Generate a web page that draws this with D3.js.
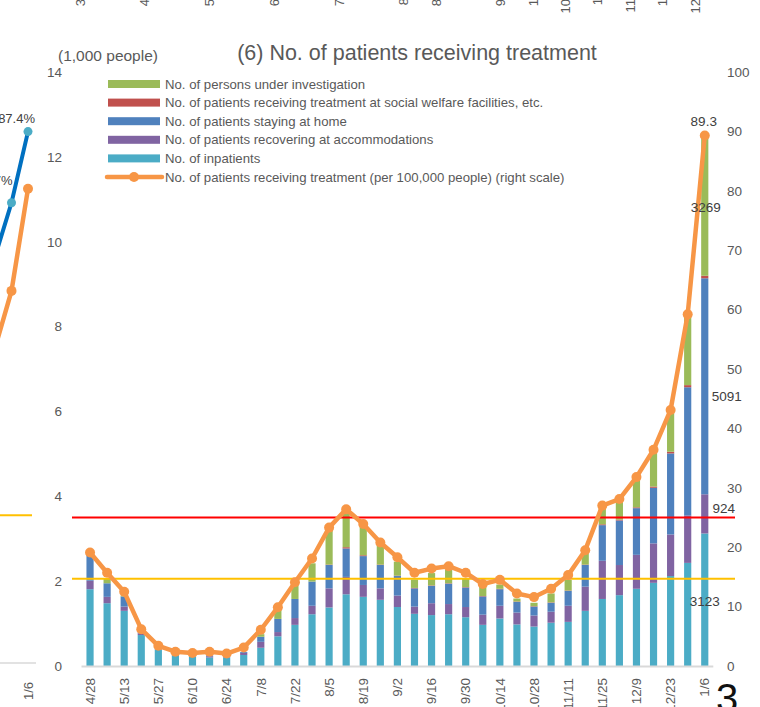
<!DOCTYPE html>
<html>
<head>
<meta charset="utf-8">
<script src="https://cdn.jsdelivr.net/npm/d3@7"></script>
<style>
  body { margin: 0; background: #fff; }
  svg { display: block; font-family: "Liberation Sans", Arial, sans-serif; }
</style>
</head>
<body>
<div id="chart"></div>
<script>
// weekly dates (only every other one is labelled)
const weeks = ["4/28","5/6","5/13","5/20","5/27","6/3","6/10","6/17","6/24","7/1","7/8","7/15","7/22","7/29",
  "8/5","8/12","8/19","8/26","9/2","9/9","9/16","9/23","9/30","10/7","10/14","10/21","10/28","11/4",
  "11/11","11/18","11/25","12/2","12/9","12/16","12/23","12/30","1/6"];

// thousands of people
const inpatients = [1.81,1.48,1.30,0.73,0.39,0.26,0.22,0.20,0.20,0.26,0.43,0.70,0.97,1.22,1.38,1.69,1.63,1.56,1.39,1.23,
  1.20,1.22,1.15,0.97,1.12,0.98,0.93,1.02,1.04,1.30,1.58,1.67,1.82,1.96,2.12,2.43,3.123];
const accommodations = [0.20,0.15,0.10,0.04,0.01,0.01,0.01,0.03,0.02,0.05,0.14,0.10,0.16,0.20,0.45,0.41,0.28,0.27,0.27,0.17,
  0.28,0.24,0.24,0.24,0.30,0.28,0.26,0.26,0.38,0.57,0.90,0.71,0.80,0.93,0.98,1.12,0.924];
const atHome = [0.61,0.32,0.24,0.02,0.01,0.00,0.00,0.02,0.01,0.02,0.12,0.31,0.45,0.57,0.55,0.67,0.68,0.55,0.46,0.43,
  0.41,0.48,0.46,0.43,0.39,0.25,0.21,0.21,0.35,0.51,0.84,1.05,1.10,1.31,1.91,3.02,5.091];
const welfare = [0,0,0,0,0,0,0,0,0,0,0,0,0,0,0.01,0.03,0.02,0.01,0.01,0.01,
  0.01,0.01,0.01,0.01,0.01,0.01,0.01,0.01,0.01,0.01,0.02,0.02,0.02,0.03,0.04,0.05,0.06];
const investigation = [0.02,0.10,0.02,0.00,0.00,0.00,0.00,0.00,0.00,0.00,0.06,0.22,0.34,0.43,0.86,0.80,0.68,0.46,0.33,0.20,
  0.29,0.32,0.20,0.23,0.10,0.07,0.08,0.21,0.25,0.27,0.38,0.43,0.71,0.83,0.98,1.62,3.269];
// per 100,000 people (right scale)
const per100k = [19.1,15.7,12.5,6.2,3.4,2.4,2.2,2.4,2.1,3.1,6.1,9.9,14.1,18.1,23.3,26.4,23.9,20.8,18.3,15.7,
  16.4,16.8,15.7,13.8,14.5,12.2,11.6,13.0,15.3,19.5,27.0,28.1,31.8,36.4,43.1,59.2,89.3];

const leftTicks = [0,2,4,6,8,10,12,14];
const rightTicks = [0,10,20,30,40,50,60,70,80,90,100];
const stageLines = [14.7, 25];   // right scale

// neighbouring chart, partly visible at the edges of the screenshot
const nbWeeks = ["12/23","12/30","1/6"];
const nbRate = [66.8, 75.7, 87.4];
const nbOrange = [51.8, 61.2, 78.0];
const nbLine = 24.3;
const topLabels = ["3/24","4/7","4/21","5/5","5/19","6/16","7/14","8/11","8/25","9/8","9/22","10/6","10/20","11/3","11/17","12/1","12/15"];
const topWeekIdx = [0,2,4,6,8,12,16,20,22,24,26,28,30,32,34,36,38];

const W = 760, H = 707;
const grey = "#595959";
const keys = ["inpatients","accommodations","atHome","welfare","investigation"];
const colors = {
  inpatients: "#4BACC6", accommodations: "#8064A2", atHome: "#4F81BD",
  welfare: "#C0504D", investigation: "#9BBB59", line: "#F79646"
};
const legendItems = [
  ["investigation", "No. of persons under investigation"],
  ["welfare", "No. of patients receiving treatment at social welfare facilities, etc."],
  ["atHome", "No. of patients staying at home"],
  ["accommodations", "No. of patients recovering at accommodations"],
  ["inpatients", "No. of inpatients"],
  ["line", "No. of patients receiving treatment (per 100,000 people) (right scale)"]
];

const rows = weeks.map((w, i) => ({
  week: w, inpatients: inpatients[i], accommodations: accommodations[i],
  atHome: atHome[i], welfare: welfare[i], investigation: investigation[i], rate: per100k[i]
}));

const svg = d3.select("#chart").append("svg").attr("width", W).attr("height", H);

const x = d3.scaleBand().domain(weeks).range([81.5, 713.3]).paddingInner(0.58).paddingOuter(0.29);
const yL = d3.scaleLinear().domain([0, 14]).range([666, 72]);
const yR = d3.scaleLinear().domain([0, 100]).range([666, 72]);
const cx = d => x(d) + x.bandwidth() / 2;

// ---- neighbour chart fragments ----
const nx = d3.scalePoint().domain(nbWeeks).range([-5, 28]);
const ny = d3.scaleLinear().domain([0, 100]).range([663, 55]);
const topX = d3.scaleLinear().domain([0, 38]).range([80, 695]);

svg.append("line").attr("x1", 0).attr("x2", 36).attr("y1", 663).attr("y2", 663)
  .attr("stroke", "#D9D9D9").attr("stroke-width", 1.5);
svg.append("line").attr("x1", 0).attr("x2", 32).attr("y1", ny(nbLine)).attr("y2", ny(nbLine))
  .attr("stroke", "#FFC000").attr("stroke-width", 2);

const nbOr = nbWeeks.map((w, i) => [nx(w), ny(nbOrange[i])]);
const nbBl = nbWeeks.map((w, i) => [nx(w), ny(nbRate[i])]);
svg.append("path").attr("d", d3.line()(nbOr)).attr("fill", "none")
  .attr("stroke", colors.line).attr("stroke-width", 4.5);
svg.selectAll(".nbo").data(nbOr.slice(1)).enter().append("circle")
  .attr("cx", d => d[0]).attr("cy", d => d[1]).attr("r", 5).attr("fill", colors.line);
svg.append("path").attr("d", d3.line()(nbBl)).attr("fill", "none")
  .attr("stroke", "#0070C0").attr("stroke-width", 4);
svg.selectAll(".nbb").data(nbBl.slice(1)).enter().append("circle")
  .attr("cx", d => d[0]).attr("cy", d => d[1]).attr("r", 4.5).attr("fill", "#4BACC6");
svg.selectAll(".nbl").data(nbWeeks.slice(1)).enter().append("text")
  .attr("x", (d, i) => nx(d) + (i === 1 ? 7 : 1))
  .attr("y", (d, i) => ny(nbRate[i + 1]) - (i === 1 ? 9 : 18))
  .attr("text-anchor", "end").attr("font-size", 13).attr("fill", "#404040")
  .text((d, i) => nbRate[i + 1].toFixed(1) + "%");
svg.append("text").attr("transform", `translate(${nx("1/6")},682) rotate(-90)`)
  .attr("dy", "0.35em").attr("text-anchor", "end").attr("font-size", 13).attr("fill", grey).text("1/6");

svg.selectAll(".toplab").data(topLabels).enter().append("text")
  .attr("transform", (d, i) => `translate(${topX(topWeekIdx[i])},-19) rotate(-90)`)
  .attr("dy", "0.35em").attr("text-anchor", "end").attr("font-size", 13).attr("fill", grey)
  .text(d => d);

// ---- main chart ----
svg.append("text").attr("x", 417).attr("y", 60).attr("text-anchor", "middle")
  .attr("font-size", 21.5).attr("fill", grey).text("(6) No. of patients receiving treatment");
svg.append("text").attr("x", 58).attr("y", 61)
  .attr("font-size", 15.5).attr("fill", grey).text("(1,000 people)");

// stacked bars
const series = d3.stack().keys(keys)(rows);
svg.append("g").selectAll("g").data(series).enter().append("g")
  .attr("fill", s => colors[s.key])
  .selectAll("rect").data(s => s).enter().append("rect")
  .attr("x", d => x(d.data.week))
  .attr("y", d => yL(d[1]))
  .attr("width", x.bandwidth())
  .attr("height", d => Math.max(0, yL(d[0]) - yL(d[1])));

// baseline
svg.append("line").attr("x1", 81.5).attr("x2", 713.3).attr("y1", 666.5).attr("y2", 666.5)
  .attr("stroke", "#D9D9D9").attr("stroke-width", 2);

// stage lines
svg.selectAll(".stage").data(stageLines).enter().append("line")
  .attr("x1", 72).attr("x2", 735)
  .attr("y1", d => yR(d)).attr("y2", d => yR(d))
  .attr("stroke", (d, i) => i === 0 ? "#FFC000" : "#FF0000").attr("stroke-width", 2);

// orange line
svg.append("path").datum(rows)
  .attr("fill", "none").attr("stroke", colors.line).attr("stroke-width", 4.5)
  .attr("stroke-linejoin", "round")
  .attr("d", d3.line().x(d => cx(d.week)).y(d => yR(d.rate)));
svg.selectAll(".dot").data(rows).enter().append("circle")
  .attr("cx", d => cx(d.week)).attr("cy", d => yR(d.rate)).attr("r", 5)
  .attr("fill", colors.line);

// axes
const styleAxis = g => {
  g.select(".domain").remove();
  g.selectAll("text").attr("font-size", 13.5).attr("fill", grey)
    .attr("font-family", '"Liberation Sans", Arial, sans-serif');
};
svg.append("g").attr("transform", "translate(66,0)")
  .call(d3.axisLeft(yL).tickValues(leftTicks).tickSize(0).tickPadding(4).tickFormat(d3.format("d")))
  .call(styleAxis);
svg.append("g").attr("transform", "translate(722,0)")
  .call(d3.axisRight(yR).tickValues(rightTicks).tickSize(0).tickPadding(5).tickFormat(d3.format("d")))
  .call(styleAxis);
svg.append("g").attr("transform", "translate(0,666)")
  .call(d3.axisBottom(x).tickValues(weeks.filter((d, i) => i % 2 === 0)).tickSize(0))
  .call(styleAxis)
  .call(g => g.selectAll("text")
    .attr("x", -12).attr("y", 0).attr("dy", "0.35em")
    .attr("transform", "rotate(-90)").style("text-anchor", "end"));

// data labels on the last week
const last = rows[rows.length - 1];
const lastX = cx(last.week);
const stackTop = s => yL(series.find(q => q.key === s)[rows.length - 1][1]);
const stackBot = s => yL(series.find(q => q.key === s)[rows.length - 1][0]);
const dataLabels = [
  { key: "inpatients", dx: 0, dy: 2 },
  { key: "accommodations", dx: 19, dy: -6 },
  { key: "atHome", dx: 22, dy: 10 },
  { key: "investigation", dx: 1, dy: 1 }
];
svg.selectAll(".dlab").data(dataLabels).enter().append("text")
  .attr("x", d => lastX + d.dx)
  .attr("y", d => (stackTop(d.key) + stackBot(d.key)) / 2 + d.dy)
  .attr("dy", "0.35em").attr("text-anchor", "middle")
  .attr("font-size", 13.5).attr("fill", "#404040")
  .text(d => Math.round(last[d.key] * 1000));
svg.append("text").attr("x", lastX - 1).attr("y", yR(last.rate) - 10)
  .attr("text-anchor", "middle").attr("font-size", 13.5).attr("fill", "#404040")
  .text(last.rate.toFixed(1));

// legend
const lg = svg.append("g").selectAll("g").data(legendItems).enter().append("g")
  .attr("transform", (d, i) => `translate(0,${84 + i * 18.6})`);
lg.filter(d => d[0] !== "line").append("rect")
  .attr("x", 108).attr("y", -4).attr("width", 52).attr("height", 8)
  .attr("fill", d => colors[d[0]]);
const lgLine = lg.filter(d => d[0] === "line");
lgLine.append("line").attr("x1", 107).attr("x2", 162).attr("y1", 0).attr("y2", 0)
  .attr("stroke", colors.line).attr("stroke-width", 4.5).attr("stroke-linecap", "round");
lgLine.append("circle").attr("cx", 134).attr("cy", 0).attr("r", 5).attr("fill", colors.line);
lg.append("text").attr("x", 165).attr("y", 0).attr("dy", "0.35em")
  .attr("font-size", 13.2).attr("fill", grey).text(d => d[1]);

// page number at bottom right
svg.append("text").attr("x", 727).attr("y", 712).attr("text-anchor", "middle")
  .attr("font-size", 40).attr("fill", "#111").text("3");
</script>
</body>
</html>
